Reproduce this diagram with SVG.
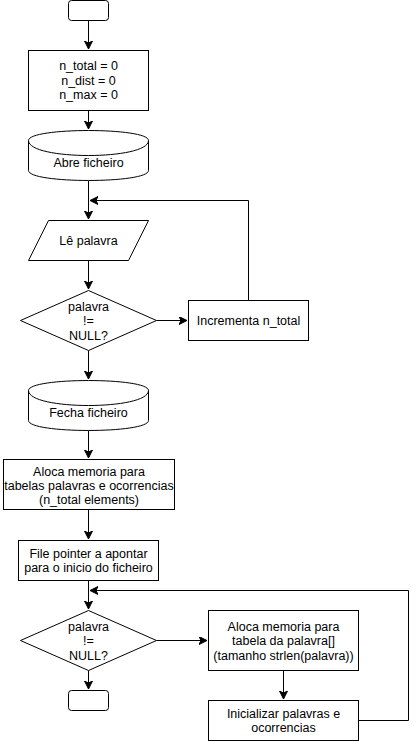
<svg xmlns="http://www.w3.org/2000/svg" width="417" height="741" viewBox="0 0 417 741">
<style>
.s{fill:#fff;stroke:#000;stroke-width:1}
.c{fill:none;stroke:#000;stroke-width:1}
.t{font-family:"Liberation Sans",Arial,sans-serif;font-size:12.5px;fill:#000;text-anchor:middle}
</style>
<defs>
<marker id="a" markerUnits="userSpaceOnUse" markerWidth="10" markerHeight="10" refX="8" refY="4" orient="auto">
<path d="M0,0 L8,4 L0,8 L2,4 Z" fill="#000" stroke="#000" stroke-width="1"/>
</marker>
</defs>
<g id="connectors">
<path class="c" d="M88.5,20.5 V49" marker-end="url(#a)"/>
<path class="c" d="M88.5,110.5 V129" marker-end="url(#a)"/>
<path class="c" d="M88.5,180.5 V219" marker-end="url(#a)"/>
<path class="c" d="M248.5,300.5 V200.5 H90" marker-end="url(#a)"/>
<path class="c" d="M88.5,260.5 V289" marker-end="url(#a)"/>
<path class="c" d="M156.5,320.5 H187" marker-end="url(#a)"/>
<path class="c" d="M88.5,350.5 V379" marker-end="url(#a)"/>
<path class="c" d="M88.5,430.5 V458" marker-end="url(#a)"/>
<path class="c" d="M88.5,509.5 V539" marker-end="url(#a)"/>
<path class="c" d="M88.5,580.5 V609" marker-end="url(#a)"/>
<path class="c" d="M358.5,720.5 H408.5 V590.5 H90" marker-end="url(#a)"/>
<path class="c" d="M156.5,640.5 H207" marker-end="url(#a)"/>
<path class="c" d="M88.5,670.5 V689" marker-end="url(#a)"/>
<path class="c" d="M283.5,670.5 V699" marker-end="url(#a)"/>
</g>
<g id="start"><rect class="s" x="68.5" y="0.5" width="40" height="20" rx="3"/></g>
<g id="init"><rect class="s" x="28.5" y="50.5" width="120" height="60"/>
<text class="t" x="88.5" y="70">n_total = 0</text>
<text class="t" x="88.5" y="84.5">n_dist = 0</text>
<text class="t" x="88.5" y="99">n_max = 0</text></g>
<g id="abre"><path class="s" d="M28.5,140.5 C28.5,127.2 148.5,127.2 148.5,140.5 V170.5 C148.5,183.8 28.5,183.8 28.5,170.5 Z"/>
<path class="c" d="M28.5,140.5 C28.5,160.5 148.5,160.5 148.5,140.5"/>
<text class="t" x="88.5" y="167">Abre ficheiro</text></g>
<g id="le"><path class="s" d="M48.5,220.5 H148.5 L128.5,260.5 H28.5 Z"/>
<text class="t" x="88.5" y="245">Lê palavra</text></g>
<g id="dec1"><path class="s" d="M88.5,290.5 L156.5,320.5 L88.5,350.5 L20.5,320.5 Z"/>
<text class="t" x="88.5" y="311">palavra</text>
<text class="t" x="88.5" y="325">!=</text>
<text class="t" x="88.5" y="339.5">NULL?</text></g>
<g id="inc"><rect class="s" x="188.5" y="300.5" width="120" height="40"/>
<text class="t" x="248.5" y="324.5">Incrementa n_total</text></g>
<g id="fecha"><path class="s" d="M28.5,390.5 C28.5,377.2 148.5,377.2 148.5,390.5 V420.5 C148.5,433.8 28.5,433.8 28.5,420.5 Z"/>
<path class="c" d="M28.5,390.5 C28.5,410.5 148.5,410.5 148.5,390.5"/>
<text class="t" x="88.5" y="417">Fecha ficheiro</text></g>
<g id="aloca"><rect class="s" x="3.5" y="459.5" width="171" height="50"/>
<text class="t" x="89" y="475.5">Aloca memoria para</text>
<text class="t" x="89" y="490">tabelas palavras e ocorrencias</text>
<text class="t" x="89" y="504">(n_total elements)</text></g>
<g id="fp"><rect class="s" x="18.5" y="540.5" width="140" height="40"/>
<text class="t" x="88.5" y="557.5">File pointer a apontar</text>
<text class="t" x="88.5" y="571.5">para o inicio do ficheiro</text></g>
<g id="dec2"><path class="s" d="M88.5,610.5 L156.5,640.5 L88.5,670.5 L20.5,640.5 Z"/>
<text class="t" x="88.5" y="631">palavra</text>
<text class="t" x="88.5" y="645">!=</text>
<text class="t" x="88.5" y="659.5">NULL?</text></g>
<g id="end"><rect class="s" x="68.5" y="690.5" width="40" height="20" rx="3"/></g>
<g id="aloca2"><rect class="s" x="208.5" y="610.5" width="150" height="60"/>
<text class="t" x="283.5" y="630.5">Aloca memoria para</text>
<text class="t" x="283.5" y="645">tabela da palavra[]</text>
<text class="t" x="283.5" y="659.5">(tamanho strlen(palavra))</text></g>
<g id="inic"><rect class="s" x="208.5" y="700.5" width="150" height="40"/>
<text class="t" x="283.5" y="718">Inicializar palavras e</text>
<text class="t" x="283.5" y="732">ocorrencias</text></g>
</svg>
